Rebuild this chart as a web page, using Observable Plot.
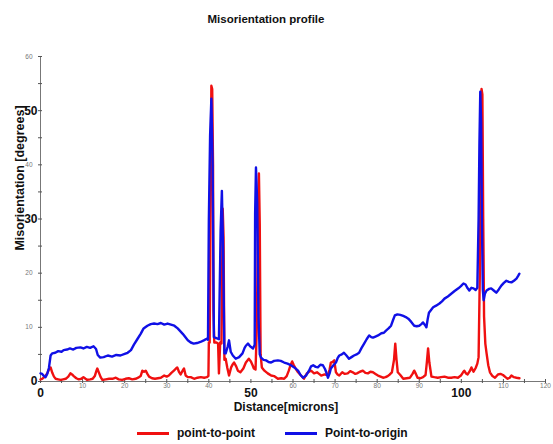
<!DOCTYPE html>
<html>
<head>
<meta charset="utf-8">
<script src="https://cdn.jsdelivr.net/npm/d3@7"></script>
<script src="https://cdn.jsdelivr.net/npm/@observablehq/plot@0.6"></script>
<style>
  body { margin: 0; background: #fff; font-family: "Liberation Sans", Arial, sans-serif; }
  #wrap { position: relative; width: 553px; height: 444px; }
  #title { position: absolute; left: 0; top: 0; width: 532px; height: 38px; line-height: 38px; text-align: center; font-weight: bold; font-size: 11.5px; color: #111; }
  #chart { position: absolute; left: 0; top: 40px; }
  #legend { position: absolute; left: 0; top: 422px; width: 553px; height: 22px; font-weight: bold; font-size: 12px; color: #111; }
  .sw { position: absolute; top: 10px; height: 3px; }
  .lt { position: absolute; top: 0; line-height: 22px; }
</style>
</head>
<body>
<div id="wrap">
  <div id="title">Misorientation profile</div>
  <div id="chart"></div>
  <div id="legend"></div>
</div>
<script>
const titleText = "Misorientation profile";
const xLabel = "Distance[microns]";
const yLabel = "Misorientation [degrees]";
const seriesNames = ["point-to-point", "Point-to-origin"];
const seriesColors = ["#f01010", "#1010e6"];

const xTicksSmall = [10, 20, 30, 40, 60, 70, 80, 90, 110, 120];
const xTicksBig = [0, 50, 100];
const yTicksSmall = [10, 20, 40, 60];
const yTicksBig = [0, 30, 50];

// point-to-point (red)
const redX = [0.0,0.4,0.9,1.6,2.0,2.4,2.8,3.2,3.6,4.2,4.8,5.4,6.0,6.6,7.1,7.5,7.9,8.5,9.1,9.7,10.2,10.7,11.1,11.8,12.4,12.9,13.3,13.5,13.9,14.3,14.7,15.5,16.3,17.1,17.9,18.6,19.4,20.2,21.0,21.8,22.6,23.2,23.8,24.2,24.6,25.0,25.4,25.8,26.5,27.2,27.9,28.6,29.4,30.0,30.5,31.1,31.7,32.2,32.5,32.9,33.3,33.7,34.1,34.5,35.0,35.7,36.5,37.3,38.1,38.9,39.5,39.9,40.0,40.2,40.4,40.6,40.8,41.0,41.1,41.3,41.8,42.2,42.4,42.7,43.0,43.3,43.5,43.7,44.0,44.4,44.8,45.3,45.7,46.0,46.5,46.9,47.5,48.2,48.8,49.5,50.0,50.4,50.7,51.1,51.4,51.7,51.9,52.1,52.3,52.6,53.2,54.0,54.8,55.5,56.4,57.2,57.9,58.5,59.0,59.4,59.8,60.2,60.7,61.2,61.9,62.6,63.3,63.8,64.3,65.0,65.7,66.2,66.7,67.5,68.3,68.7,69.0,69.4,69.8,70.2,70.6,71.0,71.7,72.3,73.0,73.6,74.2,74.8,75.2,75.9,76.6,77.2,77.8,78.4,79.0,79.6,80.2,80.8,81.4,82.0,82.5,83.0,83.5,84.0,84.3,84.6,84.9,85.5,86.2,87.0,87.8,88.4,88.8,89.2,89.6,90.3,90.9,91.5,91.8,92.1,92.4,92.9,93.6,94.4,95.2,96.0,96.8,97.6,98.4,99.2,99.9,100.4,100.7,101.1,101.5,102.0,102.4,102.9,103.4,103.8,104.1,104.4,104.6,104.8,105.0,105.2,105.4,105.7,106.0,106.4,106.8,107.4,108.0,108.7,109.3,109.9,110.5,111.0,111.5,111.9,112.5,113.1,113.8];
const redY = [0.4,0.5,0.8,1.5,2.2,2.6,1.6,0.9,0.5,0.4,0.3,0.4,0.5,0.9,1.5,1.3,1.0,0.6,0.4,0.5,0.8,0.5,0.3,0.4,0.5,1.0,2.0,2.4,1.6,0.8,0.3,0.4,0.5,0.5,0.7,0.4,0.3,0.5,0.6,0.4,0.5,0.7,1.0,2.0,1.8,2.0,1.4,0.9,0.6,0.5,0.6,0.7,1.1,0.9,1.1,1.6,2.0,2.4,2.6,1.8,1.3,1.9,2.4,1.1,0.8,0.8,0.5,0.7,0.8,0.7,0.8,1.0,7.2,7.2,30,54.6,54,40,13,7.2,7.2,7.0,1.5,7.2,7.0,31.9,26.6,4,4.2,2.5,1.1,2.6,3.2,3.5,2.8,2.0,1.7,2.4,3.5,4.2,3.7,3.0,2.4,2.2,10,29.3,38.4,29,5,2.6,2.0,1.5,1.1,1.0,0.5,0.6,0.5,1.0,2.0,3.0,3.7,3.0,2.3,1.7,1.1,0.5,1.5,1.8,2.0,1.5,1.7,1.4,1.1,1.3,1.2,2.2,3.5,3.6,3.9,1.7,1.3,1.1,1.7,1.4,1.5,1.9,1.7,1.4,1.5,1.8,2.0,1.6,1.5,1.8,1.7,1.4,1.1,0.9,0.7,0.8,1.0,1.3,1.7,4.0,7.0,4.0,1.7,1.2,0.5,0.6,0.7,1.4,2.0,1.4,0.7,0.6,0.8,1.2,3.5,6.1,3.5,0.9,0.8,0.7,0.8,0.9,0.7,0.7,0.8,0.7,1.1,1.7,2.0,1.5,1.3,1.9,2.6,1.8,2.5,3.3,4.5,20,45.6,54,53,30,12,7,5.2,3,1.7,1.0,0.7,1.3,1.4,1.2,0.8,0.5,0.7,1.1,0.8,0.7,0.6];

// point-to-origin (blue)
const blueX = [0.0,0.4,0.8,1.2,1.6,2.0,2.4,2.8,3.5,4.2,5.0,5.5,6.3,7.0,7.8,8.5,9.5,10.2,11.0,11.8,12.6,13.2,13.6,14.2,15.0,16.0,17.0,18.0,19.0,20.0,20.7,21.5,22.2,23.0,23.8,24.5,25.4,26.2,27.0,27.8,28.6,29.4,30.2,31.0,31.8,32.6,33.2,33.8,34.4,35.0,35.7,36.4,37.2,38.0,38.8,39.5,39.8,40.0,40.3,40.6,40.9,41.2,41.8,42.4,42.8,43.1,43.4,43.7,44.0,44.5,44.8,45.2,45.7,46.4,47.2,48.0,48.5,48.8,49.3,49.8,50.5,50.9,51.0,51.2,51.5,51.8,52.1,52.4,53.0,53.6,54.2,54.8,55.5,56.4,57.1,57.9,58.7,59.5,60.3,61.2,61.8,62.4,63.1,63.8,64.3,64.8,65.4,65.9,66.5,67.1,67.6,67.9,68.3,68.7,69.0,69.6,70.2,70.6,71.0,71.6,72.1,72.7,73.3,73.9,74.5,75.1,75.7,76.3,76.9,77.5,78.1,78.6,79.0,79.6,80.2,81.0,81.6,82.1,82.7,83.3,83.8,84.2,84.8,85.5,86.2,86.8,87.4,88.1,88.8,89.4,90.0,90.5,90.9,91.4,91.7,92.0,92.3,92.8,93.3,94.0,94.8,95.4,96.0,96.8,97.6,98.4,99.3,99.9,100.5,101.0,101.5,101.9,102.4,102.9,103.4,103.8,104.1,104.3,104.5,104.7,104.9,105.1,105.3,105.6,106.0,106.6,107.1,107.7,108.3,108.9,109.5,110.1,110.7,111.3,111.9,112.5,113.1,113.5,113.8];
const blueY = [1.5,1.4,1.0,0.8,1.4,2.5,4.8,5.2,5.3,5.6,5.5,5.8,5.9,6.1,5.9,6.2,6.3,6.1,6.4,6.2,6.5,6.0,4.9,4.4,4.5,4.8,4.6,4.9,4.8,5.1,5.3,5.8,6.8,7.8,8.8,9.8,10.3,10.6,10.7,10.6,10.8,10.5,10.7,10.5,10.3,9.8,9.3,8.8,8.2,7.6,7.2,7.0,7.1,7.3,7.6,7.9,7.7,29.7,45.4,52.2,40.2,8.2,8.0,7.8,27.9,35.2,24,5.2,5.2,6.5,7.6,5.5,4.8,4.2,4.5,5.2,6.2,6.6,7.0,6.5,6.1,6.8,31,39.5,33,12,5.0,4.4,4.0,3.9,3.6,3.5,3.8,3.9,3.8,3.5,3.3,3.0,2.6,2.0,1.2,0.7,1.1,2.0,2.8,3.0,2.7,2.6,3.1,3.0,2.3,1.7,0.7,1.5,2.4,3.0,3.5,4.3,4.8,5.0,5.3,4.8,4.2,4.5,4.8,5.0,5.3,6.2,7.0,7.8,8.5,8.2,8.1,8.3,8.5,8.9,9.0,9.4,9.8,10.3,11.4,12.2,12.4,12.3,12.1,11.9,11.6,11.0,10.3,10.2,10.3,10.6,10.9,10.4,10.0,11.5,12.7,13.2,13.7,14.0,14.4,14.8,15.3,15.7,16.2,16.7,17.2,17.6,18.1,17.9,17.2,16.8,17.3,17.2,16.9,17.3,30,44,53.5,48,29,17,15.0,16.2,16.8,17.1,17.2,16.8,16.4,17.0,17.7,18.2,18.6,18.4,18.3,18.6,19.0,19.5,19.9];

const font = '"Liberation Sans", Arial, sans-serif';

const chart = Plot.plot({
  width: 553,
  height: 382,
  marginTop: 16,
  marginBottom: 41,
  marginLeft: 40,
  marginRight: 8,
  style: { fontFamily: font, background: "white", overflow: "visible" },
  x: { domain: [0, 120], label: null },
  y: { domain: [0, 60], label: null },
  marks: [
    Plot.ruleY([0], { stroke: "#777", strokeWidth: 1 }),
    Plot.ruleX([0], { stroke: "#777", strokeWidth: 1 }),
    // tick marks
    Plot.axisX({ ticks: d3.range(0, 121, 5), tickSize: 4, dy: -2, text: null, stroke: "#555", label: null }),
    Plot.axisY({ ticks: d3.range(0, 61, 5), tickSize: 4, dx: 2, text: null, stroke: "#555", label: null }),
    // tick labels
    Plot.axisX({ ticks: xTicksSmall, tickSize: 0, tickPadding: 2, fontSize: 6.5, fill: "#777", label: null }),
    Plot.axisX({ ticks: xTicksBig, tickSize: 0, tickPadding: 7, fontSize: 12, fontWeight: "bold", fill: "#111", label: null }),
    Plot.axisY({ ticks: yTicksSmall, tickSize: 0, tickPadding: 8, fontSize: 6.5, fill: "#777", label: null }),
    Plot.axisY({ ticks: yTicksBig, tickSize: 0, tickPadding: 3, fontSize: 12, fontWeight: "bold", fill: "#111", label: null }),
    // data
    Plot.line(redX, { x: redX, y: redY, stroke: seriesColors[0], strokeWidth: 2.4, strokeLinejoin: "round" }),
    Plot.line(blueX, { x: blueX, y: blueY, stroke: seriesColors[1], strokeWidth: 2.4, strokeLinejoin: "round" }),
    // axis titles
    Plot.text([xLabel], { frameAnchor: "bottom", lineAnchor: "middle", textAnchor: "middle", dy: 26, dx: -7, fontSize: 12, fontWeight: "bold", fill: "#111" }),
    Plot.text([yLabel], { frameAnchor: "left", textAnchor: "middle", lineAnchor: "middle", rotate: -90, dx: -21, dy: -41, fontSize: 12.5, fontWeight: "bold", fill: "#111" })
  ]
});
document.getElementById("chart").appendChild(chart);
document.getElementById("title").textContent = titleText;

const legend = document.getElementById("legend");
const legendPos = [{ sw: 137, tx: 177 }, { sw: 285, tx: 325 }];
seriesNames.forEach((name, i) => {
  const s = document.createElement("div");
  s.className = "sw";
  s.style.left = legendPos[i].sw + "px";
  s.style.width = "32px";
  s.style.background = seriesColors[i];
  legend.appendChild(s);
  const t = document.createElement("div");
  t.className = "lt";
  t.style.left = legendPos[i].tx + "px";
  t.textContent = name;
  legend.appendChild(t);
});
</script>
</body>
</html>
